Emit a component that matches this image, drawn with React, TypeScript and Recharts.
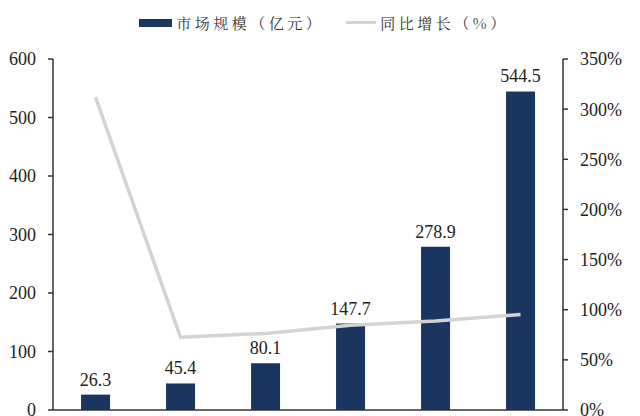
import React from "react";
import { ComposedChart, Bar, Line, XAxis, YAxis, Legend, LabelList } from "recharts";

const categories = ["1", "2", "3", "4", "5", "6"];
const marketSize = [26.3, 45.4, 80.1, 147.7, 278.9, 544.5];
const growth = [3.12, 0.726, 0.764, 0.844, 0.888, 0.952];
const leftTicks = [0, 100, 200, 300, 400, 500, 600];
const rightTicks = [0, 0.5, 1, 1.5, 2, 2.5, 3, 3.5];

const BAR_NAME = "市场规模（亿元）";
const LINE_NAME = "同比增长（%）";

const data = categories.map((c, i) => ({ cat: c, size: marketSize[i], growth: growth[i] }));

const SERIF = '"Liberation Serif", "Times New Roman", "Noto Sans CJK SC", serif';
const LEGEND_FONT = '"Noto Serif CJK SC", "Liberation Serif", "Noto Sans CJK SC", serif';
const BAR_COLOR = "#1a3660";
const LINE_COLOR = "#d3d3d3";
const AXIS_COLOR = "#333333";

const LegendContent = () => (
  <div
    style={{
      display: "flex",
      justifyContent: "center",
      alignItems: "center",
      fontFamily: LEGEND_FONT,
      fontSize: 15,
      color: "#333",
      letterSpacing: 3.5,
      paddingLeft: 8,
    }}
  >
    <span style={{ display: "inline-block", width: 33, height: 8, background: BAR_COLOR, marginRight: 4 }} />
    <span>{BAR_NAME}</span>
    <span style={{ display: "inline-block", width: 30, height: 3, background: LINE_COLOR, marginLeft: 22, marginRight: 4 }} />
    <span>{LINE_NAME}</span>
  </div>
);

export default function App() {
  return (
    <div style={{ position: "absolute", left: 0, top: 0, width: 640, height: 416, overflow: "hidden", background: "#fff" }}>
      <ComposedChart
        width={640}
        height={416}
        data={data}
        margin={{ top: 59, right: 0, bottom: 0, left: 0 }}
        barCategoryGap="33%"
      >
        <XAxis
          dataKey="cat"
          tick={false}
          tickLine={false}
          height={6}
          axisLine={{ stroke: AXIS_COLOR, strokeWidth: 1.5 }}
        />
        <YAxis
          yAxisId="left"
          domain={[0, 600]}
          ticks={leftTicks}
          width={53}
          tickSize={5}
          tickMargin={12}
          tickLine={{ stroke: AXIS_COLOR, strokeWidth: 1.5 }}
          axisLine={{ stroke: AXIS_COLOR, strokeWidth: 1.5 }}
          tick={{ fill: "#222", fontSize: 18, fontFamily: SERIF }}
          interval={0}
        />
        <YAxis
          yAxisId="right"
          orientation="right"
          domain={[0, 3.5]}
          ticks={rightTicks}
          width={77}
          tickSize={5}
          tickMargin={12}
          tickLine={{ stroke: AXIS_COLOR, strokeWidth: 1.5 }}
          axisLine={{ stroke: AXIS_COLOR, strokeWidth: 1.5 }}
          tick={{ fill: "#222", fontSize: 18, fontFamily: SERIF }}
          tickFormatter={(v: number) => `${Math.round(v * 100)}%`}
          interval={0}
        />
        <Legend
          layout="horizontal"
          verticalAlign="middle"
          align="center"
          wrapperStyle={{ top: 12, left: 0, width: 640 }}
          content={() => <LegendContent />}
        />
        <Bar yAxisId="left" dataKey="size" name={BAR_NAME} fill={BAR_COLOR} isAnimationActive={false}>
          <LabelList
            dataKey="size"
            position="top"
            offset={9}
            style={{ fill: "#222", fontSize: 18, fontFamily: SERIF }}
          />
        </Bar>
        <Line
          yAxisId="right"
          dataKey="growth"
          name={LINE_NAME}
          type="linear"
          stroke={LINE_COLOR}
          strokeWidth={3.5}
          dot={false}
          activeDot={false}
          isAnimationActive={false}
        />
      </ComposedChart>
    </div>
  );
}
